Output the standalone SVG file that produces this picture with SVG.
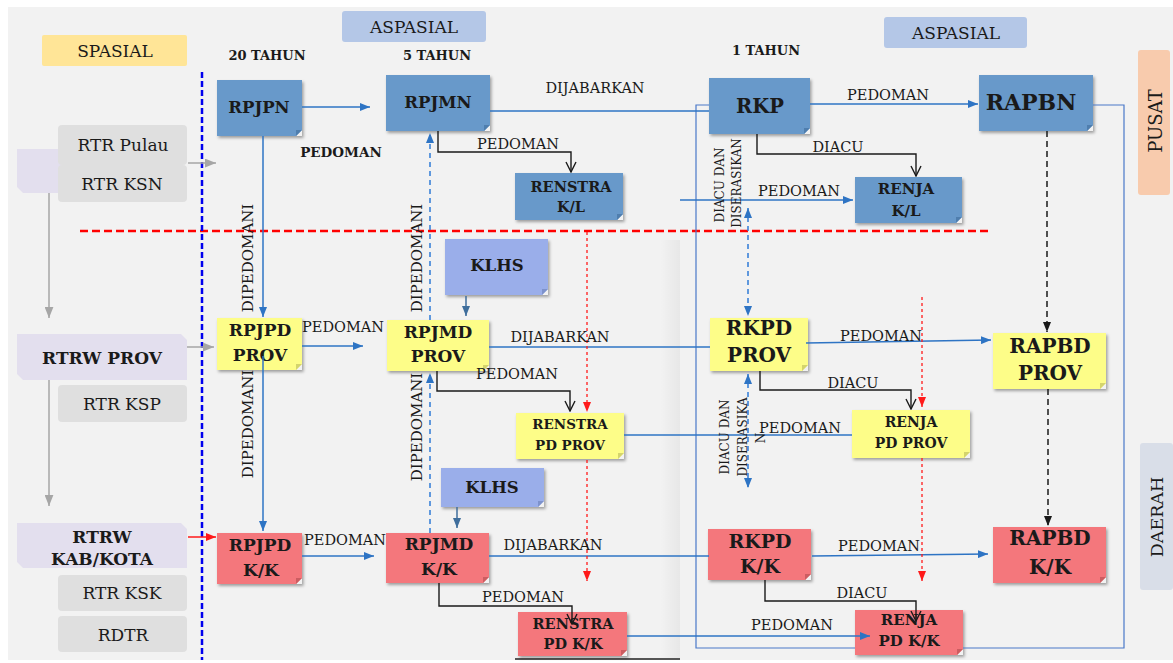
<svg xmlns="http://www.w3.org/2000/svg" width="1173" height="663" viewBox="0 0 1173 663">
<defs>
<style>
.t{font-family:"DejaVu Serif","Liberation Serif",serif;fill:#1a1a1a;text-anchor:middle;dominant-baseline:central}
.b{font-weight:bold}
.l{font-size:14.5px}
.blue{fill:#6899ca}
.yel{fill:#fdfd88}
.red{fill:#f4777c}
.klhs{fill:#9aaeea}
.lav{fill:#e3dfee}
.gry{fill:#dfdfdf}
.cut{fill:#f2f2f2}
.fb{fill:#4f7eae}
.fy{fill:#d4d46c}
.fr{fill:#cc5d61}
.fk{fill:#7d92cc}
.ln{fill:none;stroke:#2e74c4;stroke-width:1.5}
.dl{fill:none;stroke:#2f7bd6;stroke-width:1.5;stroke-dasharray:5 4}
.bk{fill:none;stroke:#1a1a1a;stroke-width:1.4}
.fr2{fill:none;stroke:#4a78c8;stroke-width:1.2}
.rd{fill:none;stroke:#ff1a1a;stroke-width:1.3;stroke-dasharray:3 3}
.kd{fill:none;stroke:#1a1a1a;stroke-width:1.5;stroke-dasharray:6 4}
.gl{fill:none;stroke:#a6a6a6;stroke-width:1.5}
</style>
<filter id="sh" x="-10%" y="-10%" width="130%" height="140%"><feDropShadow dx="1.5" dy="2" stdDeviation="1.5" flood-color="#000" flood-opacity="0.35"/></filter>
<linearGradient id="pg" x1="0" y1="0" x2="1" y2="0"><stop offset="0" stop-color="#000" stop-opacity="0"/><stop offset="1" stop-color="#000" stop-opacity="0.045"/></linearGradient>
<marker id="ab" viewBox="0 0 10 8" refX="10" refY="4" markerWidth="10" markerHeight="8" markerUnits="userSpaceOnUse" orient="auto-start-reverse"><path d="M0,0 L10,4 L0,8 Z" fill="#2e74c4"/></marker>
<marker id="an" viewBox="0 0 10 8" refX="10" refY="4" markerWidth="10" markerHeight="8" markerUnits="userSpaceOnUse" orient="auto"><path d="M0,0 L10,4 L0,8 Z" fill="#3f6e9c"/></marker>
<marker id="ak" viewBox="-1 -1 12 12" refX="10" refY="5" markerWidth="12" markerHeight="12" markerUnits="userSpaceOnUse" orient="auto"><path d="M0,0 L10,5 L0,10" fill="none" stroke="#1a1a1a" stroke-width="1.4"/></marker>
<marker id="akf" viewBox="0 0 10 8" refX="10" refY="4" markerWidth="10" markerHeight="8" markerUnits="userSpaceOnUse" orient="auto"><path d="M0,0 L10,4 L0,8 Z" fill="#1a1a1a"/></marker>
<marker id="ar" viewBox="0 0 10 8" refX="10" refY="4" markerWidth="10" markerHeight="8" markerUnits="userSpaceOnUse" orient="auto"><path d="M0,0 L10,4 L0,8 Z" fill="#ff1a1a"/></marker>
<marker id="ag" viewBox="0 0 10 8" refX="10" refY="4" markerWidth="11" markerHeight="9" markerUnits="userSpaceOnUse" orient="auto"><path d="M0,0 L10,4 L0,8 Z" fill="#a6a6a6"/></marker>
</defs>

<g id="background">
<rect x="0" y="0" width="1173" height="663" fill="#ffffff"/>
<rect x="8" y="7" width="1165" height="653" fill="#f2f2f2"/>
<rect x="660" y="240" width="20" height="420" fill="url(#pg)"/>
<path d="M515,659 H680" stroke="#555" stroke-width="2"/>
<path d="M80,231 H990" fill="none" stroke="#ff0000" stroke-width="2.5" stroke-dasharray="8 4"/>
<path d="M202,72 V660" fill="none" stroke="#0000ee" stroke-width="2.5" stroke-dasharray="6 3"/>
</g>

<g id="headers">
<g id="h-spasial"><rect x="42" y="35" width="145" height="31" rx="2" fill="#ffe597"/><text class="t" x="115" y="51" font-size="17">SPASIAL</text></g>
<g id="h-aspasial1"><rect x="342" y="11" width="144" height="31" rx="3" fill="#b4c7e7"/><text class="t" x="414" y="27" font-size="17">ASPASIAL</text></g>
<g id="h-aspasial2"><rect x="884" y="17" width="143" height="31" rx="3" fill="#b4c7e7"/><text class="t" x="956" y="33" font-size="17">ASPASIAL</text></g>
<g id="h-pusat"><rect x="1138" y="50" width="32" height="145" rx="3" fill="#f8cbad"/><text class="t" x="1155" y="121" font-size="18" transform="rotate(-90 1155 121)">PUSAT</text></g>
<g id="h-daerah"><rect x="1140" y="443" width="33" height="147" rx="3" fill="#d9dee8"/><text class="t" x="1157" y="517" font-size="17.5" transform="rotate(-90 1157 517)">DAERAH</text></g>
<text class="t b" x="267" y="55" font-size="13">20 TAHUN</text>
<text class="t b" x="437" y="55" font-size="13">5 TAHUN</text>
<text class="t b" x="766" y="50" font-size="13">1 TAHUN</text>
</g>

<g id="spatial">
<g id="rtrn"><path class="lav" d="M17,149 H70 V193 H23 L17,187 Z"/></g>
<g id="rtr-pulau"><rect class="gry" x="58" y="125" width="129" height="40" rx="4"/><text class="t" x="123" y="145" font-size="17">RTR Pulau</text></g>
<g id="rtr-ksn"><rect class="gry" x="58" y="165" width="129" height="37" rx="4"/><text class="t" x="122" y="184" font-size="17">RTR KSN</text></g>
<g id="rtrw-prov"><path class="lav" d="M17,334 H181 L187,340 V380 H23 L17,374 Z"/><text class="t b" x="102" y="358" font-size="17">RTRW PROV</text></g>
<g id="rtr-ksp"><rect class="gry" x="58" y="385" width="129" height="37" rx="4"/><text class="t" x="122" y="404" font-size="17">RTR KSP</text></g>
<g id="rtrw-kk"><path class="lav" d="M17,523 H181 L187,529 V568 H23 L17,562 Z"/><text class="t b" x="102" y="537" font-size="17">RTRW</text><text class="t b" x="102" y="559" font-size="17">KAB/KOTA</text></g>
<g id="rtr-ksk"><rect class="gry" x="58" y="575" width="129" height="36" rx="4"/><text class="t" x="122" y="593" font-size="17">RTR KSK</text></g>
<g id="rdtr"><rect class="gry" x="58" y="616" width="129" height="36" rx="4"/><text class="t" x="123" y="635" font-size="17">RDTR</text></g>
</g>

<g id="nodes">
<g id="rpjpn"><rect class="blue" x="217" y="80" width="85" height="56" filter="url(#sh)"/><polygon class="cut" points="296,136 302,130 302,136"/><polygon class="fb" points="296,136 302,130 296,130"/><text class="t b" x="259" y="107" font-size="16.5">RPJPN</text></g>
<g id="rpjmn"><rect class="blue" x="386" y="75" width="104" height="56" filter="url(#sh)"/><polygon class="cut" points="484,131 490,125 490,131"/><polygon class="fb" points="484,131 490,125 484,125"/><text class="t b" x="438" y="102" font-size="16.5">RPJMN</text></g>
<g id="rkp"><rect class="blue" x="709" y="78" width="101" height="56" filter="url(#sh)"/><polygon class="cut" points="804,134 810,128 810,134"/><polygon class="fb" points="804,134 810,128 804,128"/><text class="t b" x="760" y="106" font-size="19.5">RKP</text></g>
<g id="rapbn"><rect class="blue" x="979" y="75" width="114" height="56" filter="url(#sh)"/><polygon class="cut" points="1087,131 1093,125 1093,131"/><polygon class="fb" points="1087,131 1093,125 1087,125"/><text class="t b" x="1031" y="102" font-size="22">RAPBN</text></g>
<g id="renstra-kl"><rect class="blue" x="515" y="173" width="108" height="47" filter="url(#sh)"/><polygon class="cut" points="617,220 623,214 623,220"/><polygon class="fb" points="617,220 623,214 617,214"/><text class="t b" x="571" y="186" font-size="14.5">RENSTRA</text><text class="t b" x="571" y="206" font-size="14.5">K/L</text></g>
<g id="renja-kl"><rect class="blue" x="855" y="177" width="107" height="46" filter="url(#sh)"/><polygon class="cut" points="956,223 962,217 962,223"/><polygon class="fb" points="956,223 962,217 956,217"/><text class="t b" x="906" y="189" font-size="15">RENJA</text><text class="t b" x="906" y="211" font-size="15">K/L</text></g>
<g id="klhs-1"><rect class="klhs" x="445" y="239" width="103" height="56" filter="url(#sh)"/><polygon class="cut" points="542,295 548,289 548,295"/><polygon class="fk" points="542,295 548,289 542,289"/><text class="t b" x="497" y="265" font-size="16.5">KLHS</text></g>
<g id="klhs-2"><rect class="klhs" x="441" y="468" width="103" height="39" filter="url(#sh)"/><polygon class="cut" points="538,507 544,501 544,507"/><polygon class="fk" points="538,507 544,501 538,501"/><text class="t b" x="492" y="487" font-size="16.5">KLHS</text></g>
<g id="rpjpd-prov"><rect class="yel" x="217" y="318" width="85" height="52" filter="url(#sh)"/><polygon class="cut" points="296,370 302,364 302,370"/><polygon class="fy" points="296,370 302,364 296,364"/><text class="t b" x="260" y="330" font-size="17">RPJPD</text><text class="t b" x="260" y="355" font-size="17">PROV</text></g>
<g id="rpjmd-prov"><rect class="yel" x="387" y="320" width="102" height="51" filter="url(#sh)"/><polygon class="cut" points="483,371 489,365 489,371"/><polygon class="fy" points="483,371 489,365 483,365"/><text class="t b" x="438" y="332" font-size="17">RPJMD</text><text class="t b" x="438" y="356" font-size="17">PROV</text></g>
<g id="rkpd-prov"><rect class="yel" x="710" y="318" width="98" height="53" filter="url(#sh)"/><polygon class="cut" points="802,371 808,365 808,371"/><polygon class="fy" points="802,371 808,365 802,365"/><text class="t b" x="759" y="328" font-size="20">RKPD</text><text class="t b" x="759" y="355" font-size="20">PROV</text></g>
<g id="rapbd-prov"><rect class="yel" x="993" y="333" width="113" height="56" filter="url(#sh)"/><polygon class="cut" points="1100,389 1106,383 1106,389"/><polygon class="fy" points="1100,389 1106,383 1100,383"/><text class="t b" x="1050" y="346" font-size="20">RAPBD</text><text class="t b" x="1050" y="373" font-size="20">PROV</text></g>
<g id="renstra-prov"><rect class="yel" x="516" y="413" width="108" height="46" filter="url(#sh)"/><polygon class="cut" points="618,459 624,453 624,459"/><polygon class="fy" points="618,459 624,453 618,453"/><text class="t b" x="570" y="424" font-size="13.5">RENSTRA</text><text class="t b" x="570" y="445" font-size="13.5">PD PROV</text></g>
<g id="renja-prov"><rect class="yel" x="852" y="410" width="118" height="48" filter="url(#sh)"/><polygon class="cut" points="964,458 970,452 970,458"/><polygon class="fy" points="964,458 970,452 964,452"/><text class="t b" x="911" y="422" font-size="14">RENJA</text><text class="t b" x="911" y="443" font-size="14">PD PROV</text></g>
<g id="rpjpd-kk"><rect class="red" x="217" y="533" width="85" height="51" filter="url(#sh)"/><polygon class="cut" points="296,584 302,578 302,584"/><polygon class="fr" points="296,584 302,578 296,578"/><text class="t b" x="260" y="545" font-size="17">RPJPD</text><text class="t b" x="261" y="570" font-size="17">K/K</text></g>
<g id="rpjmd-kk"><rect class="red" x="386" y="533" width="103" height="50" filter="url(#sh)"/><polygon class="cut" points="483,583 489,577 489,583"/><polygon class="fr" points="483,583 489,577 483,577"/><text class="t b" x="439" y="544" font-size="17">RPJMD</text><text class="t b" x="439" y="569" font-size="17">K/K</text></g>
<g id="rkpd-kk"><rect class="red" x="708" y="529" width="103" height="51" filter="url(#sh)"/><polygon class="cut" points="805,580 811,574 811,580"/><polygon class="fr" points="805,580 811,574 805,574"/><text class="t b" x="760" y="541" font-size="19">RKPD</text><text class="t b" x="760" y="566" font-size="19">K/K</text></g>
<g id="rapbd-kk"><rect class="red" x="993" y="527" width="113" height="56" filter="url(#sh)"/><polygon class="cut" points="1100,583 1106,577 1106,583"/><polygon class="fr" points="1100,583 1106,577 1100,577"/><text class="t b" x="1050" y="538" font-size="20">RAPBD</text><text class="t b" x="1050" y="567" font-size="20">K/K</text></g>
<g id="renstra-kk"><rect class="red" x="518" y="612" width="109" height="44" filter="url(#sh)"/><polygon class="cut" points="621,656 627,650 627,656"/><polygon class="fr" points="621,656 627,650 621,650"/><text class="t b" x="573" y="623" font-size="14.5">RENSTRA</text><text class="t b" x="573" y="643" font-size="14.5">PD K/K</text></g>
<g id="renja-kk"><rect class="red" x="855" y="610" width="108" height="45" filter="url(#sh)"/><polygon class="cut" points="957,655 963,649 963,655"/><polygon class="fr" points="957,655 963,649 957,649"/><text class="t b" x="909" y="620" font-size="15">RENJA</text><text class="t b" x="909" y="641" font-size="15">PD K/K</text></g>
</g>

<g id="connectors">
<path class="gl" d="M188,163 H216" marker-end="url(#ag)"/>
<path class="gl" d="M187,347 H214" marker-end="url(#ag)"/>
<path fill="none" stroke="#ff1a1a" stroke-width="1.5" d="M188,537 H216" marker-end="url(#ar)"/>
<path class="gl" d="M49,193 V318" marker-end="url(#ag)"/>
<path class="gl" d="M49,380 V506" marker-end="url(#ag)"/>
<path class="fr2" d="M709,105 H696 V648 H855 M963,648 H1124 V105 H1093"/>
<path class="ln" d="M302,107 H370" marker-end="url(#ab)"/>
<path class="ln" d="M490,111 H709"/>
<path class="ln" d="M810,104 H978" marker-end="url(#ab)"/>
<path class="bk" d="M438,131 V152 H571 V172" marker-end="url(#ak)"/>
<path class="bk" d="M757,134 V154 H916 V176" marker-end="url(#ak)"/>
<path class="ln" d="M680,200 H853" marker-end="url(#ab)"/>
<path class="dl" d="M748,208 V316" marker-start="url(#ab)" marker-end="url(#ab)"/>
<path class="dl" d="M748,374 V488" marker-start="url(#ab)" marker-end="url(#ab)"/>
<path class="ln" d="M624,435 H852"/>
<path class="bk" d="M760,371 V390 H911 V409" marker-end="url(#ak)"/>
<path class="bk" d="M437,371 V391 H570 V411" marker-end="url(#ak)"/>
<path class="ln" d="M489,347 H710"/>
<path class="ln" d="M806,343 L991,340" marker-end="url(#ab)"/>
<path class="ln" d="M302,346 H363" marker-end="url(#ab)"/>
<path fill="none" stroke="#3f6e9c" stroke-width="1.5" d="M466,296 V316" marker-end="url(#an)"/>
<path fill="none" stroke="#3f6e9c" stroke-width="1.5" d="M457,507 V528" marker-end="url(#an)"/>
<path class="ln" d="M263,136 V317" marker-end="url(#ab)"/>
<path class="ln" d="M263,356 V531" marker-end="url(#ab)"/>
<path class="dl" d="M430,533 V373" marker-end="url(#ab)"/>
<path class="dl" d="M430,320 V133" marker-end="url(#ab)"/>
<path class="ln" d="M302,556 H374" marker-end="url(#ab)"/>
<path class="ln" d="M489,556 H709"/>
<path class="ln" d="M812,556 L988,554" marker-end="url(#ab)"/>
<path class="bk" d="M765,580 V601 H916 V621" marker-end="url(#ak)"/>
<path class="bk" d="M439,583 V606 H572 V624" marker-end="url(#ak)"/>
<path class="ln" d="M627,636 H870" marker-end="url(#ab)"/>
<path class="rd" d="M587,232 V412" marker-end="url(#ar)"/>
<path class="rd" d="M587,460 V581" marker-end="url(#ar)"/>
<path class="rd" d="M922,297 V407" marker-end="url(#ar)"/>
<path class="rd" d="M922,458 V581" marker-end="url(#ar)"/>
<path class="kd" d="M1047,131 V332" marker-end="url(#akf)"/>
<path class="kd" d="M1048,389 V526" marker-end="url(#akf)"/>
</g>

<g id="labels">
<text class="t b" x="341" y="152" font-size="13.5">PEDOMAN</text>
<text class="t l" x="595" y="88">DIJABARKAN</text>
<text class="t l" x="518" y="144">PEDOMAN</text>
<text class="t l" x="888" y="95">PEDOMAN</text>
<text class="t l" x="838" y="147">DIACU</text>
<text class="t l" x="799" y="191">PEDOMAN</text>
<text class="t" x="720" y="185" font-size="12" transform="rotate(-90 720 185)">DIACU DAN</text>
<text class="t" x="737" y="183" font-size="12" transform="rotate(-90 737 183)">DISERASIKAN</text>
<text class="t" x="248" y="258" font-size="15" transform="rotate(-90 248 258)">DIPEDOMANI</text>
<text class="t" x="248" y="424" font-size="15" transform="rotate(-90 248 424)">DIPEDOMANI</text>
<text class="t" x="417" y="258" font-size="15" transform="rotate(-90 417 258)">DIPEDOMANI</text>
<text class="t" x="417" y="427" font-size="15" transform="rotate(-90 417 427)">DIPEDOMANI</text>
<text class="t l" x="343" y="327">PEDOMAN</text>
<text class="t l" x="560" y="337">DIJABARKAN</text>
<text class="t l" x="517" y="374">PEDOMAN</text>
<text class="t l" x="881" y="336">PEDOMAN</text>
<text class="t l" x="853" y="383">DIACU</text>
<text class="t l" x="800" y="428">PEDOMAN</text>
<text class="t" x="725" y="437" font-size="12" transform="rotate(-90 725 437)">DIACU DAN</text>
<text class="t" x="743" y="437" font-size="12" transform="rotate(-90 743 437)">DISERASIKA</text>
<text class="t" x="761" y="438" font-size="12" transform="rotate(-90 761 438)">N</text>
<text class="t l" x="345" y="540">PEDOMAN</text>
<text class="t l" x="553" y="545">DIJABARKAN</text>
<text class="t l" x="879" y="546">PEDOMAN</text>
<text class="t l" x="862" y="593">DIACU</text>
<text class="t l" x="523" y="597">PEDOMAN</text>
<text class="t l" x="792" y="625">PEDOMAN</text>
</g>
</svg>
